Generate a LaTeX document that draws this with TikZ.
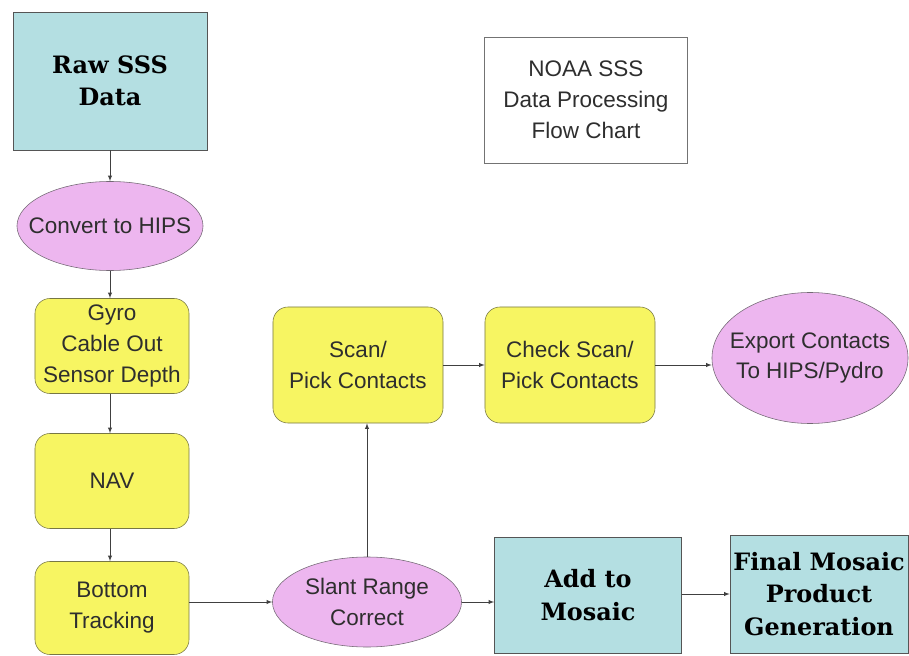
\documentclass[tikz,border=0pt]{standalone}
\usepackage{fontspec}
\setmainfont{Liberation Sans}
\newfontfamily\heavyfont{DejaVu Serif}
\usetikzlibrary{shapes.geometric}

\definecolor{tealbox}{HTML}{B4DFE2}
\definecolor{yellowbox}{HTML}{F7F562}
\definecolor{pinkbox}{HTML}{EDB6EF}
\definecolor{edgegray}{HTML}{555555}
\definecolor{textgray}{HTML}{2E2E2E}

\tikzset{
  every node/.style={align=center,text=textgray,inner sep=0pt},
  databox/.style={draw=edgegray,fill=tealbox,
    font=\heavyfont\bfseries\fontsize{17}{23}\selectfont,text=black},
  stepbox/.style={draw=edgegray!80!yellow,fill=yellowbox,rounded corners=0.375cm,
    minimum width=3.85cm,font=\fontsize{16}{22}\selectfont},
  oval/.style={ellipse,draw=edgegray!80!pinkbox,fill=pinkbox,
    label={[font=\fontsize{16}{22}\selectfont,align=center]center:#1}},
  flow/.style={-latex,draw=black!75,thin}
}

\begin{document}
\begin{tikzpicture}[x=0.025cm,y=-0.025cm]
  \useasboundingbox (0,0) rectangle (909,656);
  % left column
  \node[databox,minimum width=4.85cm,minimum height=3.45cm] (raw) at (110,81) {Raw SSS\\Data};
  \node[oval={Convert to HIPS},minimum width=4.65cm,minimum height=2.225cm] (convert) at (110,226) {};
  \node[stepbox,minimum height=2.375cm] (gyro) at (112,346) {Gyro\\Cable Out\\Sensor Depth};
  \node[stepbox,minimum height=2.375cm] (nav) at (112,481) {NAV};
  \node[stepbox,minimum height=2.325cm] (bottom) at (112,608) {Bottom\\Tracking};
  % title
  \node[draw=black!55,minimum width=5.075cm,minimum height=3.15cm,
    font=\fontsize{16}{22}\selectfont] (title) at (586,100) {NOAA SSS\\Data Processing\\Flow Chart};
  % contacts row
  \node[stepbox,minimum width=4.25cm,minimum height=2.9cm] (scan) at (358,365) {Scan/\\Pick Contacts};
  \node[stepbox,minimum width=4.25cm,minimum height=2.9cm] (check) at (570,365) {Check Scan/\\Pick Contacts};
  \node[oval={Export Contacts\\To HIPS/Pydro},minimum width=4.9cm,minimum height=3.275cm] (export) at (810,358) {};
  % mosaic row
  \node[oval={Slant Range\\Correct},minimum width=4.725cm,minimum height=2.25cm] (slant) at (367,602) {};
  \node[databox,minimum width=4.675cm,minimum height=2.9cm] (add) at (588,595) {Add to\\Mosaic};
  \node[databox,minimum width=4.45cm,minimum height=2.95cm] (final) at (819,594) {Final Mosaic\\Product\\Generation};

  \draw[flow] (raw.south) -- (raw.south |- convert.north);
  \draw[flow] (raw.south |- convert.south) -- (raw.south |- gyro.north);
  \draw[flow] (raw.south |- gyro.south) -- (raw.south |- nav.north);
  \draw[flow] (raw.south |- nav.south) -- (raw.south |- bottom.north);
  \draw[flow] (bottom.east |- slant) -- (slant);
  \draw[flow] (slant.north) -- (slant.north |- scan.south);
  \draw[flow] (scan) -- (check);
  \draw[flow] (check.east) -- (check.east -| export.west);
  \draw[flow] (slant.east) -- (slant.east -| add.west);
  \draw[flow] (add.east |- final) -- (final);
\end{tikzpicture}
\end{document}
